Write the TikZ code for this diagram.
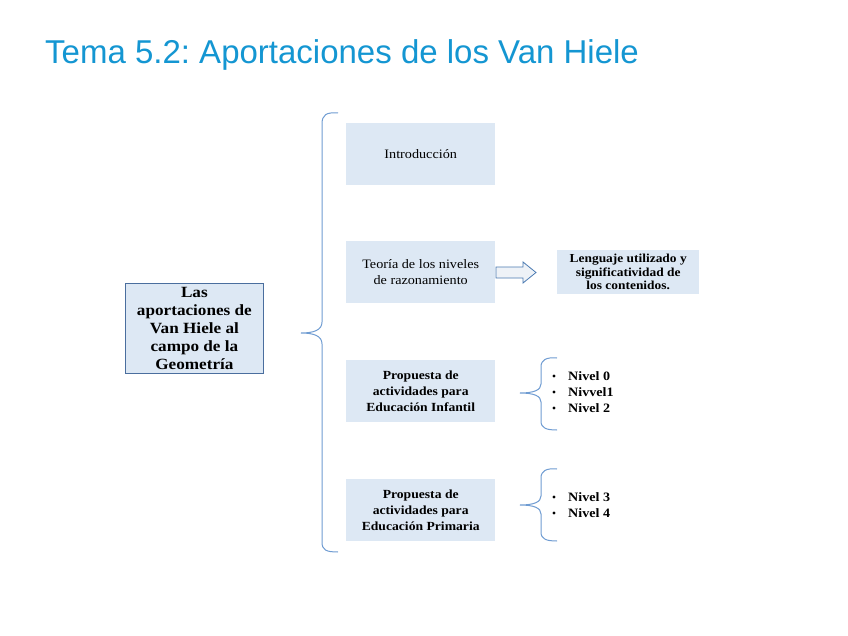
\documentclass[tikz,border=0pt]{standalone}
\usepackage{fontspec}
\setmainfont{Liberation Serif}[FakeStretch=1.1]
\newfontfamily\titlefont{Liberation Sans}
\definecolor{titleblue}{HTML}{1496D2}
\definecolor{boxfill}{HTML}{DDE8F4}
\definecolor{boxedge}{HTML}{4A6E9E}
\definecolor{bracecol}{HTML}{6F9CD2}
\definecolor{arrowedge}{HTML}{4A7AB2}
\definecolor{arrowfill}{HTML}{EEF2F7}
\frenchspacing
\begin{document}
\begin{tikzpicture}[x=1pt,y=-1pt,
  lightbox/.style={fill=boxfill,draw=none,minimum width=149pt,minimum height=62pt,inner sep=0pt,align=center,anchor=north west},
  regtext/.style={font=\fontsize{12.9}{15.5}\selectfont},
  boldtext/.style={font=\fontsize{12.4}{16}\selectfont\bfseries},
  bracestyle/.style={draw=bracecol,line width=1pt},
  itemtext/.style={font=\fontsize{12.8}{16}\selectfont\bfseries,anchor=west,inner sep=0pt}]
\useasboundingbox (0,0) rectangle (848,636);
\fill[white] (0,0) rectangle (848,636);
% title
\node[anchor=base west,inner sep=0pt,text=titleblue,font=\titlefont\fontsize{33}{38}\selectfont] (title) at (45,64) {Tema 5.2: Aportaciones de los Van Hiele};
% left box
\node[fill=boxfill,draw=boxedge,line width=0.8pt,minimum width=138pt,minimum height=90pt,inner sep=0pt,align=center,anchor=north west,font=\fontsize{15.6}{18}\selectfont\bfseries] (main) at (125,283) {Las\\aportaciones de\\Van Hiele al\\campo de la\\Geometría};
% right boxes
\node[lightbox,regtext] (intro) at (346,123) {Introducción};
\node[lightbox,regtext] (teoria) at (346,241) {Teoría de los niveles\\de razonamiento};
\node[lightbox,boldtext] (infantil) at (346,360) {Propuesta de\\actividades para\\Educación Infantil};
\node[lightbox,boldtext] (primaria) at (346,479) {Propuesta de\\actividades para\\Educación Primaria};
\node[fill=boxfill,minimum width=142pt,minimum height=44pt,inner sep=0pt,align=center,anchor=north west,font=\fontsize{12.2}{13.5}\selectfont\bfseries] (lenguaje) at (557,250) {Lenguaje utilizado y\\significatividad de\\los contenidos.};
% big brace
\coordinate (bigtip) at (301,333);
\draw[bracestyle] (338,113) .. controls (326,112) and (322,115) .. (322,124)
  -- (322,322) .. controls (322,330) and (314,333) .. (bigtip)
  .. controls (314,333) and (322,336) .. (322,344)
  -- (322,542) .. controls (322,550) and (326,552) .. (338,552);
% block arrow
\draw[draw=arrowedge,fill=arrowfill,line width=0.8pt] (496,267) -- (523,267) -- (523,262) -- (536,272.5) -- (523,283) -- (523,278) -- (496,278) -- cycle;
% small brace 1
\coordinate (tip1) at (520,393);
\draw[bracestyle] (557,358) .. controls (546,357) and (541,360) .. (541,367)
  -- (541,384) .. controls (541,390) and (534,393) .. (tip1)
  .. controls (534,393) and (541,396) .. (541,402)
  -- (541,421) .. controls (541,428) and (546,430) .. (557,430);
% small brace 2
\coordinate (tip2) at (520,505);
\draw[bracestyle] (557,469) .. controls (546,468) and (541,471) .. (541,478)
  -- (541,496) .. controls (541,502) and (534,505) .. (tip2)
  .. controls (534,505) and (541,508) .. (541,514)
  -- (541,532) .. controls (541,539) and (546,541) .. (557,541);
% items
\node[itemtext] (n0) at (568,376) {Nivel 0};
\node[itemtext] (n1) at (568,392) {Nivvel1};
\node[itemtext] (n2) at (568,408) {Nivel 2};
\node[itemtext] (n3) at (568,497) {Nivel 3};
\node[itemtext] (n4) at (568,513) {Nivel 4};
\foreach \n in {n0,n1,n2,n3,n4}{
  \fill (\n.west) ++(-14,0) circle (1.6pt);
}
\end{tikzpicture}
\end{document}
